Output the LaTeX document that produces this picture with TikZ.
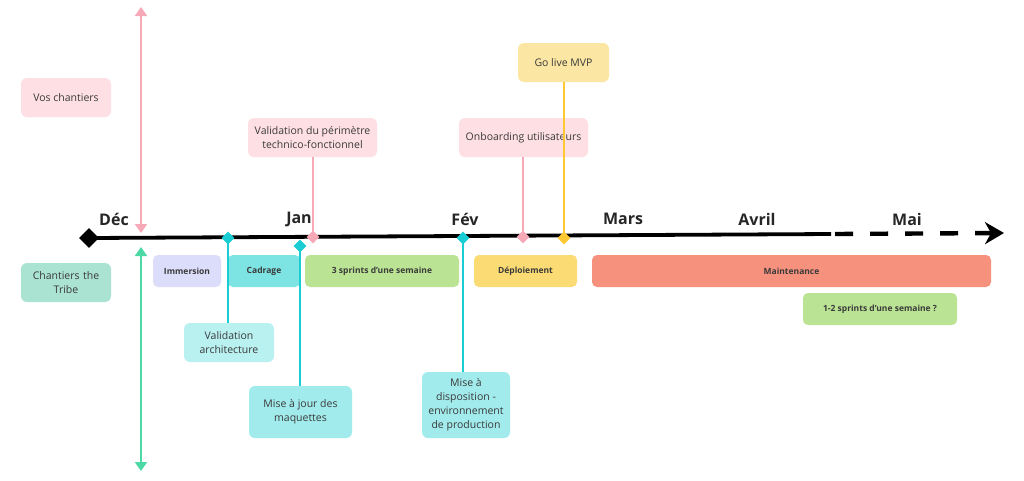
\documentclass[tikz,border=0pt]{standalone}
\usepackage{fontspec}
\setmainfont{Open Sans}
\usetikzlibrary{shapes.geometric,arrows.meta}
\definecolor{pinkbox}{HTML}{FDDFE4}
\definecolor{pinkline}{HTML}{F8A9B8}
\definecolor{mintbox}{HTML}{ABE3D2}
\definecolor{mintline}{HTML}{4CD9A6}
\definecolor{cyanline}{HTML}{1ACDD2}
\definecolor{cadrage}{HTML}{7DE3E3}
\definecolor{valarch}{HTML}{B9F1F1}
\definecolor{cyanbox}{HTML}{A2EBEC}
\definecolor{immersion}{HTML}{DCDDFB}
\definecolor{greenbar}{HTML}{BBE394}
\definecolor{deploi}{HTML}{FADB74}
\definecolor{maint}{HTML}{F6917E}
\definecolor{golive}{HTML}{FBE7A3}
\definecolor{yellowline}{HTML}{FFC933}
\definecolor{txt}{HTML}{3A3A3A}
\tikzset{
  box/.style={rounded corners=6pt, inner sep=0pt, align=center, text=txt,
    font=\fontsize{10.5}{14}\selectfont},
  bar/.style={rounded corners=5pt, inner sep=0pt, align=center, text=txt,
    minimum height=32pt, font=\fontsize{8.5}{10}\selectfont\bfseries},
  month/.style={font=\fontsize{16}{18}\selectfont\bfseries, text=black!85, inner sep=0pt},
  ms/.style={diamond, inner sep=0pt, minimum width=13pt, minimum height=13pt},
  conn/.style={line width=1.6pt},
}
\begin{document}
\begin{tikzpicture}[x=1pt,y=-1pt]
\useasboundingbox (0,0) rectangle (1024,480);
\fill[white] (0,0) rectangle (1024,480);

% main timeline
\coordinate (tlstart) at (90,238);
\coordinate (tlmid) at (831,234);
\coordinate (tldash) at (835,234);
\coordinate (tlend) at (1004,233);
\draw[line width=3.8pt] (tlstart) -- (tlmid);
\draw[line width=4.4pt, dash pattern=on 18pt off 17pt, -{Stealth[length=19pt,width=22pt,inset=6pt]}] (tldash) -- (tlend);
\node[diamond, fill=black, inner sep=0pt, minimum width=20pt, minimum height=20pt] (start) at (89,238) {};

% month labels
\node[month] (dec) at (114,219) {Déc};
\node[month] (jan) at (299,219) {Jan};
\node[month] (fev) at (465,219) {Fév};
\node[month] (mars) at (623,219) {Mars};
\node[month] (avril) at (757,219) {Avril};
\node[month] (mai) at (907,219) {Mai};

% vertical arrows
\coordinate (pa1) at (141,7);
\coordinate (pa2) at (141,233);
\coordinate (ma1) at (141,247);
\coordinate (ma2) at (141,471);
\draw[pinkline, line width=1.8pt, {Triangle[length=9pt,width=12pt]}-{Triangle[length=9pt,width=12pt]}] (pa1) -- (pa2);
\draw[mintline, line width=1.8pt, {Triangle[length=9pt,width=12pt]}-{Triangle[length=9pt,width=12pt]}] (ma1) -- (ma2);

% left labels
\node[box, fill=pinkbox, minimum width=90pt, minimum height=39pt] (vos) at (66,97.5) {Vos chantiers};
\node[box, fill=mintbox, minimum width=90pt, minimum height=39pt, text width=80pt] (tribe) at (66,282.5) {Chantiers the\\Tribe};

% bars
\node[bar, fill=immersion, minimum width=68pt] (immersion) at (187,271) {Immersion};
\node[bar, fill=cadrage, minimum width=72pt] (cadrage) at (264,271) {Cadrage};
\node[bar, fill=greenbar, minimum width=154pt] (sprints) at (382,271) {3 sprints d'une semaine};
\node[bar, fill=deploi, minimum width=103pt] (deploiement) at (525.5,271) {Déploiement};
\node[bar, fill=maint, minimum width=399pt] (maintenance) at (791.5,271) {Maintenance};
\node[bar, fill=greenbar, minimum width=154pt] (sprints2) at (880,309) {1-2 sprints d'une semaine ?};

% callout boxes
\node[box, fill=valarch, minimum width=90pt, minimum height=39pt] (valarch) at (229,342.5) {Validation\\architecture};
\node[box, fill=cyanbox, minimum width=103pt, minimum height=52pt] (maj) at (300.5,412) {Mise à jour des\\maquettes};
\node[box, fill=cyanbox, minimum width=88pt, minimum height=66pt] (dispo) at (466,405) {Mise à\\disposition -\\environnement\\de production};
\node[box, fill=pinkbox, minimum width=129pt, minimum height=39pt] (perim) at (312.5,137.5) {Validation du périmètre\\technico-fonctionnel};
\node[box, fill=pinkbox, minimum width=129pt, minimum height=39pt] (onboard) at (523.5,137.5) {Onboarding utilisateurs};
\node[box, fill=golive, minimum width=91pt, minimum height=39pt] (golivebox) at (563.5,62.5) {Go live MVP};

% milestone diamonds (positions)
\coordinate (m1) at (228,238);
\coordinate (m2) at (300,246);
\coordinate (m3) at (313,237);
\coordinate (m4) at (463,238);
\coordinate (m5) at (523,237);
\coordinate (m6) at (564,238);

% connectors
\draw[conn, cyanline] (m1) -- (m1 |- valarch.north);
\draw[conn, cyanline] (m2) -- (m2 |- maj.north);
\draw[conn, cyanline] (m4) -- (m4 |- dispo.north);
\draw[conn, pinkline] (m3 |- perim.south) -- (m3);
\draw[conn, pinkline] (m5 |- onboard.south) -- (m5);
\draw[conn, yellowline] (m6 |- golivebox.south) -- (m6);

\node[ms, fill=cyanline] (d1) at (m1) {};
\node[ms, fill=cyanline] (d2) at (m2) {};
\node[ms, fill=pinkline] (d3) at (m3) {};
\node[ms, fill=cyanline] (d4) at (m4) {};
\node[ms, fill=pinkline] (d5) at (m5) {};
\node[ms, fill=yellowline] (d6) at (m6) {};
\end{tikzpicture}
\end{document}
